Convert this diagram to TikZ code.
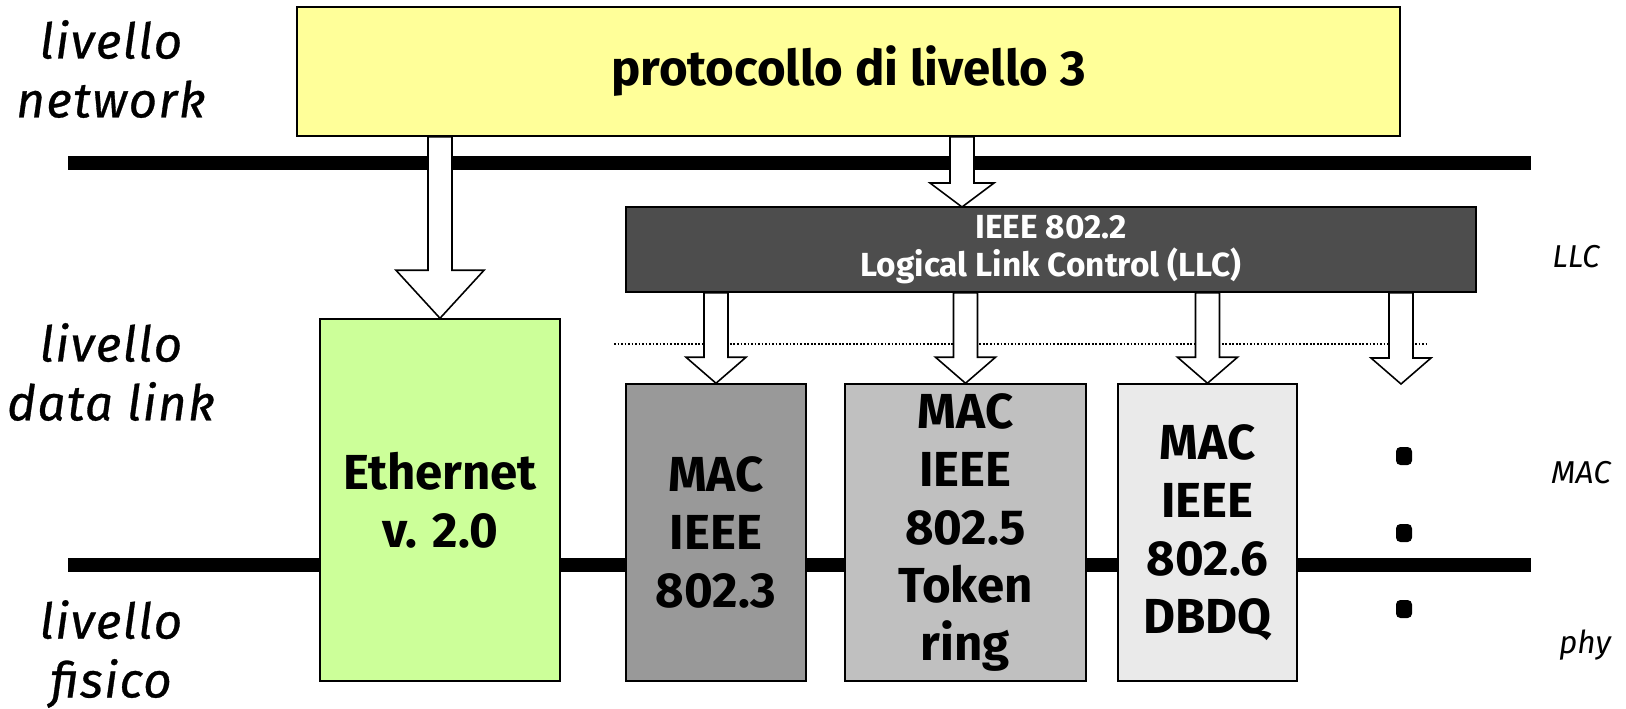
\documentclass[tikz,border=0pt]{standalone}
\usepackage{fontspec}
\setmainfont{Fira Sans}
\newfontfamily\labelfont{Fira Sans}[LetterSpace=3,ItalicFeatures={FakeBold=0.6}]
\usetikzlibrary{shapes.geometric,calc}
\usepackage{xcolor}
\definecolor{NetYellow}{RGB}{255,255,153}
\definecolor{EthGreen}{RGB}{204,255,153}
\definecolor{LlcGrey}{RGB}{77,77,77}
\definecolor{MacA}{RGB}{153,153,153}
\definecolor{MacB}{RGB}{192,192,192}
\definecolor{MacC}{RGB}{234,234,234}
\tikzset{
  lbox/.style={rectangle,draw=black,line width=0.9pt,inner sep=0pt,align=center,
               font=\fontsize{28}{33}\selectfont\bfseries},
  llcbox/.style={lbox,fill=LlcGrey,text=white,font=\fontsize{19}{21.5}\selectfont\bfseries},
  layerbar/.style={line width=8.5pt,black},
  sublayer/.style={line width=1.2pt,dash pattern=on 1pt off 1pt},
  barrow/.style={draw=black,fill=white,line width=0.9pt,line join=miter},
  levlabel/.style={align=center,font=\labelfont\fontsize{28}{33.5}\selectfont\itshape},
  sublabel/.style={font=\fontsize{18}{22}\selectfont\itshape},
  vdot/.style={rectangle,rounded corners=2.5pt,fill=black,inner sep=0pt,
               minimum width=0.32cm,minimum height=0.36cm},
}
% block arrow: start, tip, head length, head half width
\newcommand{\blockarrow}[4]{%
  \draw[barrow] ($(#1)+(-12,0)$) -- ($(#2)+(-12,-#3)$) -- ($(#2)+(-#4,-#3)$) -- (#2)
    -- ($(#2)+(#4,-#3)$) -- ($(#2)+(12,-#3)$) -- ($(#1)+(12,0)$) -- cycle;}

\begin{document}
\begin{tikzpicture}[x=0.02cm,y=-0.02cm]
  \useasboundingbox (0,0) rectangle (1626,708);
  % layer borders
  \draw[layerbar] (68,163) -- (1531,163);
  \draw[layerbar] (68,565) -- (1531,565);
  \draw[sublayer] (614,344) -- (1429,344);
  %
  \node[lbox,fill=NetYellow,minimum width=22.06cm,minimum height=2.58cm] (proto) at (848.5,71.5)
    {protocollo di livello 3};
  \node[llcbox,minimum width=17cm,minimum height=1.7cm] (llc) at (1051,249.5)
    {IEEE 802.2\\Logical Link Control (LLC)};
  \node[lbox,fill=EthGreen,minimum width=4.8cm,minimum height=7.24cm] (eth) at (440,500)
    {Ethernet\\v. 2.0};
  \node[lbox,fill=MacA,minimum width=3.6cm,minimum height=5.94cm] (mac3) at (716,532.5)
    {MAC\\IEEE\\802.3};
  \node[lbox,fill=MacB,minimum width=4.82cm,minimum height=5.94cm] (mac5) at (965.5,532.5)
    {MAC\\IEEE\\802.5\\Token\\ring};
  \node[lbox,fill=MacC,minimum width=3.58cm,minimum height=5.94cm] (mac6) at (1207.5,532.5)
    {MAC\\IEEE\\802.6\\DBDQ};
  \node[vdot] (d1) at (1404,456) {};
  \node[vdot] (d2) at (1404,533) {};
  \node[vdot] (d3) at (1404,609) {};
  %
  \node[levlabel] (lnet) at (111,69) {livello\\network};
  \node[levlabel] (ldl) at (111,372) {livello\\data link};
  \node[levlabel] (lphy) at (111,654) {livello\\fisico};
  \node[sublabel] (sllc) at (1576,257) {LLC};
  \node[sublabel] (smac) at (1581,473) {MAC};
  \node[sublabel] (sphy) at (1585,645) {phy};
  %
  \coordinate (llcin) at (962,207);
  \coordinate (more) at (1401,384);
  \coordinate (a1) at (proto.south -| eth.north);
  \coordinate (a2) at (proto.south -| llcin);
  \coordinate (b1) at (llc.south -| mac3.north);
  \coordinate (b2) at (llc.south -| mac5.north);
  \coordinate (b3) at (llc.south -| mac6.north);
  \coordinate (b4) at (llc.south -| more);
  \blockarrow{a1}{eth.north}{48}{44}
  \blockarrow{a2}{llcin}{24}{32}
  \blockarrow{b1}{mac3.north}{26}{30}
  \blockarrow{b2}{mac5.north}{26}{30}
  \blockarrow{b3}{mac6.north}{26}{30}
  \blockarrow{b4}{more}{26}{30}
\end{tikzpicture}
\end{document}
